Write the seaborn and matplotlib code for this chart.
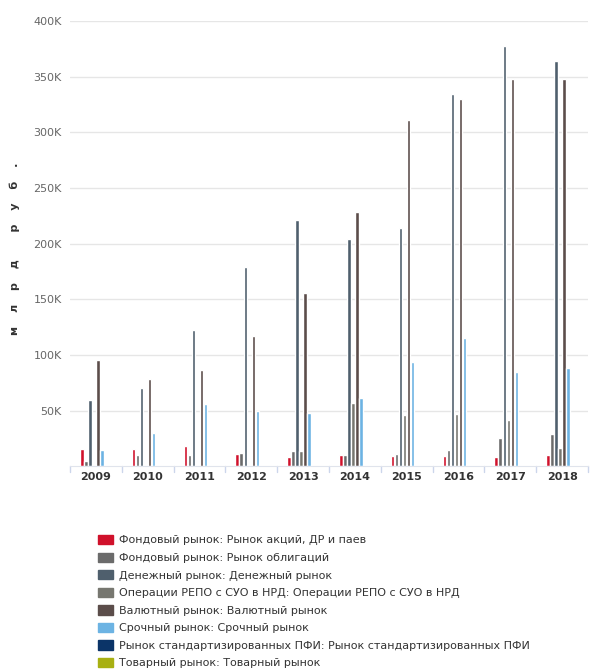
import numpy as np
import pandas as pd
import matplotlib
matplotlib.use('Agg')
import matplotlib.pyplot as plt
import matplotlib.patches as mpatches
from matplotlib.ticker import FuncFormatter
import seaborn as sns

years = ['2009', '2010', '2011', '2012', '2013', '2014', '2015', '2016', '2017', '2018']

series_names = [
    'Фондовый рынок: Рынок акций, ДР и паев',
    'Фондовый рынок: Рынок облигаций',
    'Денежный рынок: Денежный рынок',
    'Операции РЕПО с СУО в НРД: Операции РЕПО с СУО в НРД',
    'Валютный рынок: Валютный рынок',
    'Срочный рынок: Срочный рынок',
    'Рынок стандартизированных ПФИ: Рынок стандартизированных ПФИ',
    'Товарный рынок: Товарный рынок',
]
colors = ['#d0112b', '#6b6b6b', '#4f5f6d', '#777770', '#5b4d4a', '#6cb3e3', '#0b3468', '#a8b012']

# млрд руб.
stocks = [15300, 16000, 18600, 10800, 8200, 10000, 9000, 9000, 8200, 10000]
bonds = [4800, 10000, 10000, 11700, 14000, 10000, 10800, 14400, 25800, 29400]
money = [59300, 70000, 122000, 178700, 220900, 204000, 213700, 334000, 377000, 364000]
repo = [0, 0, 0, 0, 13500, 56600, 46000, 47000, 41600, 16800]
fx = [95500, 78700, 86500, 116800, 155400, 228000, 311000, 329500, 348000, 348000]
deriv = [14400, 30300, 56000, 49700, 48000, 61000, 93700, 115000, 84700, 88000]
pfi = [0, 0, 0, 0, 0, 0, 0, 0, 0, 0]
commodity = [0, 0, 0, 0, 0, 0, 0, 0, 0, 0]

all_series = [stocks, bonds, money, repo, fx, deriv, pfi, commodity]
rows = []
for name, vals in zip(series_names, all_series):
    for y, v in zip(years, vals):
        rows.append({'year': y, 'series': name, 'value': v})
df = pd.DataFrame(rows)

sns.set_style('white')
plt.rcParams['font.family'] = ['DejaVu Sans']

fig = plt.figure(figsize=(5.9, 6.71), dpi=100)
ax = fig.add_axes([70 / 590, 1 - 466.4 / 671, 518 / 590, (466.4 - 20.8) / 671])

sns.barplot(data=df, x='year', y='value', hue='series', hue_order=series_names,
            palette=colors, width=0.62, gap=0.12, saturation=1, legend=False, ax=ax)

ax.set_ylim(0, 400000)
ax.set_yticks(np.arange(50000, 400001, 50000))
ax.yaxis.set_major_formatter(FuncFormatter(lambda v, p: f'{int(v / 1000)}K'))
ax.grid(axis='y', color='#e6e6e6', linewidth=1)
ax.set_axisbelow(True)
for s in ['top', 'right', 'left']:
    ax.spines[s].set_visible(False)
ax.spines['bottom'].set_color('#e0e4ec')
ax.tick_params(axis='y', length=0, labelsize=8, labelcolor='#666666', pad=6)
ax.tick_params(axis='x', length=0, labelsize=8, labelcolor='#333333', pad=4)
for lbl in ax.get_xticklabels():
    lbl.set_fontweight('bold')
# отметки между категориями
for i in range(len(years) + 1):
    ax.plot([i - 0.5, i - 0.5], [0, -0.012], transform=ax.get_xaxis_transform(),
            color='#ccd6eb', linewidth=1, clip_on=False)
ax.set_xlim(-0.5, len(years) - 0.5)
ax.set_xlabel('')
sp = '   \u2009'
ax.set_ylabel(sp.join(['м', 'л', 'р', 'д']) + sp * 2 + sp.join(['р', 'у', 'б', '.']),
              fontsize=8, fontweight='bold', color='#333333')
ax.yaxis.set_label_coords((20 - 70) / 518, (466.4 - 249) / 445.6)

handles = [mpatches.Patch(color=c, label=n) for c, n in zip(colors, series_names)]
fig.legend(handles=handles, loc='upper left', bbox_to_anchor=(98 / 590, 1 - 535 / 671),
           frameon=False, fontsize=8, handlelength=1.35, handleheight=0.9,
           handletextpad=0.55, labelspacing=0.64, borderpad=0, borderaxespad=0,
           labelcolor='#333333')

fig.savefig('out.png', dpi=100)
